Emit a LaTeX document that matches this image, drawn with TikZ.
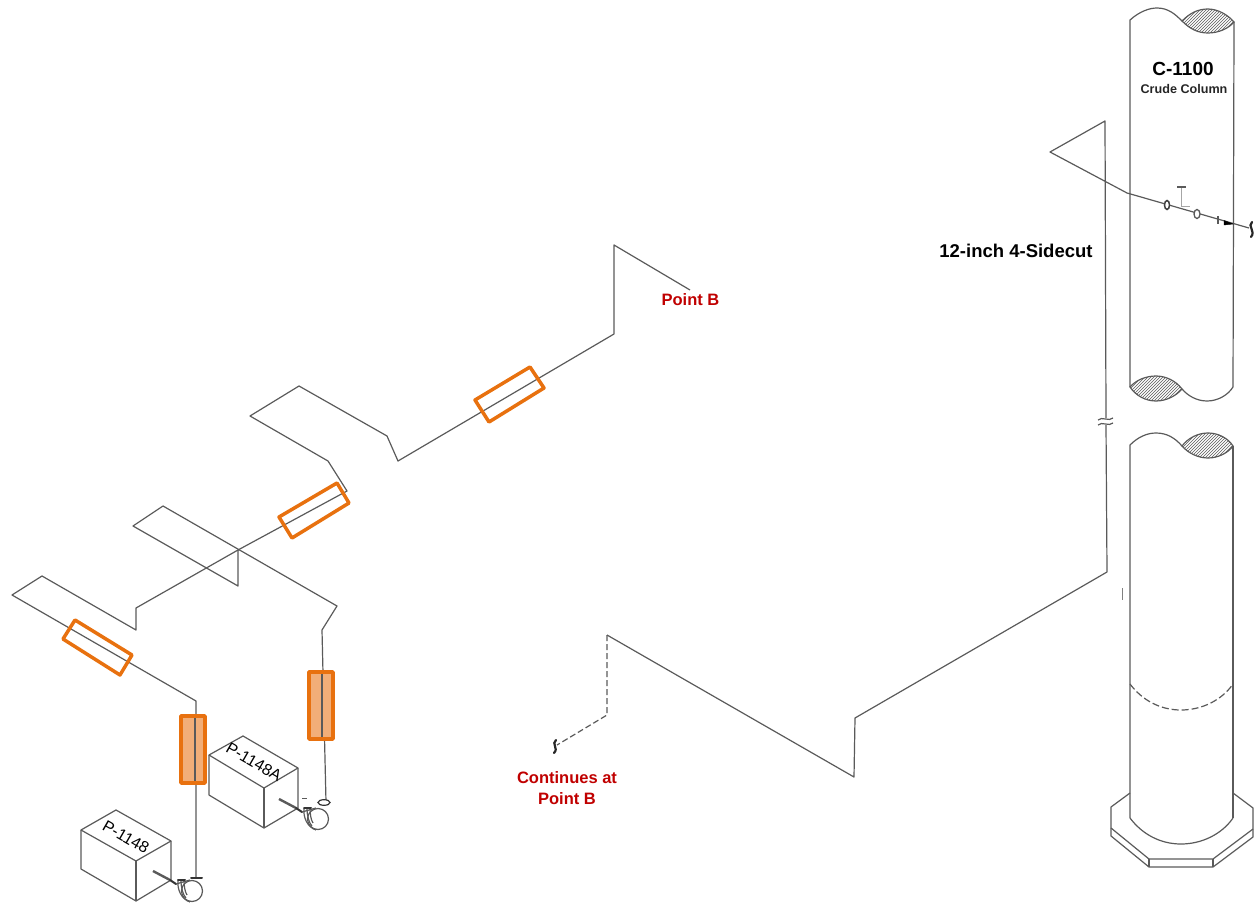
\documentclass[tikz,border=0pt]{standalone}
\usepackage{fontspec}
\setmainfont{Liberation Sans}
\usetikzlibrary{patterns}
\definecolor{pipe}{HTML}{5A5A5A}
\definecolor{orng}{HTML}{E8710F}
\definecolor{orngf}{HTML}{F2AE78}
\definecolor{redt}{HTML}{C00000}
\tikzset{
  pipeline/.style={draw=pipe,line width=1.2pt,line join=round},
  vessel/.style={draw=pipe,line width=1.2pt,line join=round},
  hatchfill/.style={draw=pipe,line width=1.2pt,pattern=north east lines,pattern color=pipe},
  squiggle/.style={draw=black!85,line width=2.2pt,line cap=round},
  filter/.style={draw=orng,line width=3.5pt,line join=round},
  filterfull/.style={draw=orng,line width=3.5pt,line join=round,fill=orngf},
  longdash/.style={dash pattern=on 6pt off 3pt},
  flange/.style={draw=black!80,line width=2pt,line cap=round},
  redlabel/.style={text=redt,font=\bfseries\fontsize{16.5}{21}\selectfont,align=center,inner sep=0pt},
  pumptag/.style={text=black,inner sep=0pt,font=\fontsize{16}{16}\selectfont,rotate=-30}
}
\newcommand{\pumpend}{%
  \draw[draw=pipe,line width=2.4pt] (153,871) -- (170,880);
  \draw[flange] (170,880) -- (176,884);
  \draw[vessel] (192,891) circle (10.5);
  \draw[vessel] (178,880) .. controls (177,889) and (181,899) .. (190,902);
  \draw[vessel] (181,880) .. controls (181,888) and (183,895) .. (186,898);
  \draw[vessel] (184,880) .. controls (184,886) and (185,892) .. (187,895);
  \draw[vessel] (176,884) -- (190,880);
  \draw[flange] (178,880) -- (185,880);
}
\begin{document}
\begin{tikzpicture}[x=1pt,y=-1pt]
\useasboundingbox (0,0) rectangle (1255,904);
% Column
\draw[vessel] (1130,387) -- (1130,20) .. controls (1140,11) and (1150,8) .. (1157,8)
  .. controls (1168,8) and (1175,14) .. (1182,21);
\draw[hatchfill] (1182,21) .. controls (1190,13) and (1198,9) .. (1208,9)
  .. controls (1218,9) and (1228,15) .. (1234,22)
  .. controls (1228,29) and (1218,33) .. (1208,33)
  .. controls (1198,33) and (1190,29) .. (1182,21) -- cycle;
\draw[vessel] (1234,22) -- (1233,387);
\draw[hatchfill] (1130,387) .. controls (1136,380) and (1146,376) .. (1156,376)
  .. controls (1166,376) and (1176,381) .. (1182,389)
  .. controls (1176,396) and (1166,401) .. (1156,401)
  .. controls (1146,401) and (1136,396) .. (1130,387) -- cycle;
\draw[vessel] (1182,389) .. controls (1188,396) and (1197,401) .. (1207,401)
  .. controls (1218,401) and (1228,395) .. (1233,387);
\draw[vessel] (1130,818) -- (1130,445) .. controls (1138,437) and (1147,433) .. (1156,433)
  .. controls (1167,433) and (1175,438) .. (1182,446);
\draw[hatchfill] (1182,446) .. controls (1188,438) and (1198,433) .. (1208,433)
  .. controls (1218,433) and (1228,438) .. (1233,446)
  .. controls (1228,453) and (1218,458) .. (1208,458)
  .. controls (1198,458) and (1188,453) .. (1182,446) -- cycle;
\draw[vessel] (1233,446) -- (1233,818);
\draw[vessel,dash pattern=on 7pt off 3pt] (1130,684) .. controls (1142,700) and (1160,710) .. (1181,710)
  .. controls (1202,710) and (1222,700) .. (1233,684);
\draw[vessel] (1130,818) .. controls (1142,834) and (1160,844) .. (1181,844)
  .. controls (1202,844) and (1222,834) .. (1233,818);
% Base
\draw[vessel] (1130,793) -- (1111,807) -- (1111,836) -- (1149,867) -- (1213,867) -- (1253,837) -- (1253,808) -- (1233,793);
\draw[vessel] (1111,828) -- (1149,859) -- (1213,859) -- (1253,829);
\draw[vessel] (1149,859) -- (1149,867) (1213,859) -- (1213,867);
% Main pipe right
\coordinate (a0) at (607,635);
\coordinate (a1) at (854,777);
\coordinate (a2) at (855,718);
\coordinate (a3) at (1107,572);
\coordinate (a4) at (1105,121);
\coordinate (a5) at (1050,152);
\coordinate (a6) at (1127,193);
\coordinate (a7) at (1249,228);
\draw[pipeline] (a0) -- (a1) -- (a2) -- (a3) -- (1106,425);
\draw[pipeline] (1106,418) -- (a4) -- (a5) -- (a6) -- (a7);
\draw[pipeline] (1098,420) .. controls (1102,416) and (1109,422) .. (1113,418);
\draw[pipeline] (1098,425) .. controls (1102,421) and (1109,427) .. (1113,423);
\draw[squiggle] (1252,222) .. controls (1247,226) and (1256,231) .. (1251,237);
\draw[draw=black!75,fill=white,line width=1.5pt] (1167,205) ellipse (2.5 and 4.5);
\draw[draw=pipe,fill=white,line width=1.3pt] (1197,214) ellipse (3 and 4.5);
\draw[gray!70,line width=1pt] (1181,187) -- (1181,207) -- (1190,207);
\draw[pipe,line width=1.2pt] (1177,187) -- (1186,187);
\draw[pipeline] (1218,216) -- (1218,224);
\draw[black,fill=black] (1224,220.5) -- (1233,224) -- (1224,225) -- cycle;
\draw[gray,line width=1pt] (1122,588) -- (1122,600);
% Lower dashed
\coordinate (d0) at (607,715);
\coordinate (d1) at (557,745);
\draw[pipeline,longdash] (a0) -- (d0) -- (d1);
\draw[squiggle] (556,740) .. controls (551,744) and (559,748) .. (554,753);
% Upper route
\coordinate (b0) at (690,290);
\coordinate (b1) at (614,245);
\coordinate (b2) at (614,334);
\coordinate (b3) at (398,461);
\coordinate (b4) at (387,436);
\coordinate (b5) at (299,386);
\coordinate (b6) at (250,416);
\coordinate (b7) at (328,461);
\coordinate (b8) at (347,491);
\coordinate (c0) at (238,550);
\draw[pipeline] (b0) -- (b1) -- (b2) -- (b3) -- (b4) -- (b5) -- (b6) -- (b7) -- (b8) -- (c0);
\draw[pipeline] (c0) -- (238,586) -- (133,526) -- (163,506) -- (337,606) -- (322,630) -- (326,802);
\coordinate (e0) at (136,608);
\coordinate (e1) at (136,630);
\coordinate (e2) at (42,576);
\coordinate (e3) at (12,595);
\coordinate (e4) at (196,701);
\draw[pipeline] (c0) -- (e0) -- (e1) -- (e2) -- (e3) -- (e4) -- (196,878);
% Orange filters
\draw[filter] (530,367) -- (544,388) -- (489,422) -- (475,400) -- cycle;
\draw[filter] (337,483) -- (349,503) -- (292,538) -- (279,517) -- cycle;
\draw[filter] (75,620) -- (132,655) -- (120,675) -- (63,639) -- cycle;
\draw[filterfull] (181,716) rectangle (205,783);
\draw[filterfull] (309,672) rectangle (333,739);
\draw[draw=pipe,line width=1.2pt] (195,718) -- (195,781) (322,674) -- (322,737);
% Pump P-1148
\draw[vessel] (81,830) -- (116,810) -- (171,841) -- (136,861) -- cycle;
\draw[vessel] (81,830) -- (81,869) -- (136,901) -- (171,880) -- (171,841);
\draw[vessel] (136,861) -- (136,901);
\node[pumptag] (p1) at (126,837) {P-1148};
\pumpend
\draw[flange] (191,878) -- (202,878);
% Pump P-1148A
\draw[vessel] (209,755) -- (243,736) -- (298,768) -- (264,788) -- cycle;
\draw[vessel] (209,755) -- (209,795) -- (264,828) -- (298,808) -- (298,768);
\draw[vessel] (264,788) -- (264,828);
\node[pumptag] (p2) at (254,762) {P-1148A};
\begin{scope}[shift={(126,-72)}]
\pumpend
\end{scope}
\draw[draw=black!80,line width=1.2pt,fill=white] (324,802.5) ellipse (6 and 2.8);
\draw[draw=pipe,line width=1pt] (302,798) -- (307,798);
% Labels
\node[inner sep=0pt,text=black,font=\bfseries\fontsize{19}{21}\selectfont] (col) at (1183,69) {C-1100};
\node[inner sep=0pt,text=black!85,font=\bfseries\fontsize{12.6}{14}\selectfont] (crude) at (1184,89) {Crude Column};
\node[inner sep=0pt,text=black,font=\bfseries\fontsize{18.5}{20}\selectfont] (side) at (1016,251) {12-inch 4-Sidecut};
\node[redlabel] (pb) at (690.5,300) {Point B};
\node[redlabel] (cont) at (567,788) {Continues at\\Point B};
\end{tikzpicture}
\end{document}
